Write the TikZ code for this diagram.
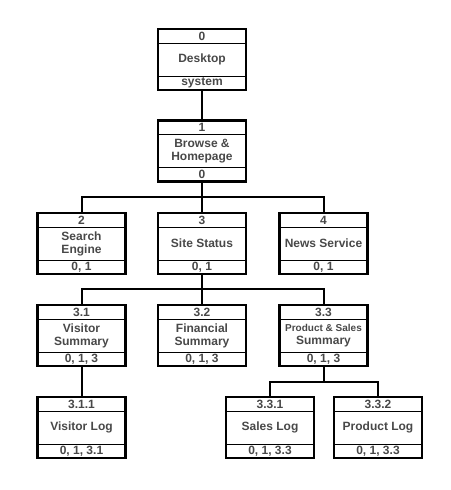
\documentclass[tikz,border=0pt]{standalone}
\usepackage{fontspec}
\setmainfont{Liberation Sans}
\usepackage{tikz}
\usetikzlibrary{positioning}
\definecolor{labelgray}{RGB}{72,72,72}

\begin{document}
\begin{tikzpicture}[x=1pt,y=-1pt]
\tikzstyle{unit}=[rectangle, draw=black, line width=2.2pt, inner sep=0pt, outer sep=0pt,
	minimum width=88pt, minimum height=61pt, align=center, text=labelgray,
	font=\bfseries\fontsize{12}{13}\selectfont
]
\tikzstyle{numtext}=[inner sep=0pt, text=labelgray, font=\bfseries\fontsize{12}{13}\selectfont]
\tikzstyle{divider}=[line width=1pt, draw=black]
\tikzstyle{link}=[line width=2pt, draw=black]
\useasboundingbox (0,0) rectangle (450,490);

\foreach \id/\x/\y/\num/\title/\deps in {
	n0/202/59.5/0/Desktop/system,
	n1/202/151/1/{Browse \&\\Homepage}/0,
	n2/81.5/243.5/2/{Search\\Engine}/{0, 1},
	n3/202/243.5/3/{Site Status}/{0, 1},
	n4/323.5/243.5/4/{News Service}/{0, 1},
	n31/81.5/335.5/3.1/{Visitor\\Summary}/{0, 1, 3},
	n32/202/335.5/3.2/{Financial\\Summary}/{0, 1, 3},
	n33/323.5/335.5/3.3/{{\fontsize{10}{12}\selectfont Product \& Sales}\\Summary}/{0, 1, 3},
	n311/81.5/427.5/3.1.1/{Visitor Log}/{0, 1, 3.1},
	n331/270/427.5/3.3.1/{Sales Log}/{0, 1, 3.3},
	n332/378/427.5/3.3.2/{Product Log}/{0, 1, 3.3}}
{
	\node[unit] (\id) at (\x,\y) {\title};
	\node[numtext] (\id-num) at ([yshift=-7pt]\id.north) {\num};
	\node[numtext] (\id-dep) at ([yshift=7pt]\id.south) {\deps};
	\path[divider] ([yshift=-14pt]\id.north west) -- ([yshift=-14pt]\id.north east);
	\path[divider] ([yshift=14pt]\id.south west) -- ([yshift=14pt]\id.south east);
}

% connectors
\path[link] (n0) -- (n1);
\path[link] (n1.south) -- ++(0,15) -| (n2.north);
\path[link] (n1.south) -- (n3.north);
\path[link] (n1.south) -- ++(0,15) -| (n4.north);
\path[link] (n3.south) -- ++(0,15) -| (n31.north);
\path[link] (n3.south) -- (n32.north);
\path[link] (n3.south) -- ++(0,15) -| (n33.north);
\path[link] (n31) -- (n311);
\path[link] (n33.south) -- ++(0,15.5) -| (n331.north);
\path[link] (n33.south) -- ++(0,15.5) -| (n332.north);

\end{tikzpicture}
\end{document}
